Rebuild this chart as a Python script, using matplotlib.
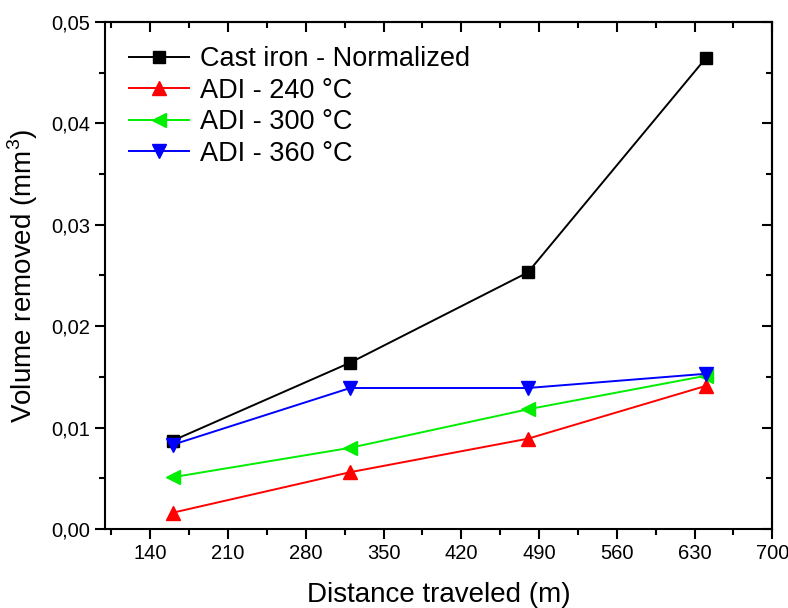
import matplotlib
matplotlib.use("Agg")
import matplotlib.pyplot as plt
from matplotlib.ticker import MultipleLocator, FuncFormatter

plt.rcParams["font.family"] = ["Liberation Sans", "DejaVu Sans"]
plt.rcParams["mathtext.fontset"] = "custom"
plt.rcParams["mathtext.rm"] = "Liberation Sans"

distance = [160, 320, 480, 640]
cast_iron = [0.0087, 0.0164, 0.0253, 0.0464]
adi_240 = [0.0016, 0.0056, 0.0089, 0.0141]
adi_300 = [0.0051, 0.0080, 0.0118, 0.0151]
adi_360 = [0.0083, 0.0139, 0.0139, 0.0153]

fig = plt.figure(figsize=(7.88, 6.08), dpi=100)
ax = fig.add_axes([0.133, 0.13, 0.847, 0.834])

ax.plot(distance, cast_iron, color="black", marker="s", ms=8, lw=1.4,
        label="Cast iron - Normalized")
ax.plot(distance, adi_240, color="#ff0000", marker="^", ms=10, lw=1.4,
        label="ADI - 240 °C")
ax.plot(distance, adi_300, color="#00ee00", marker="<", ms=10, lw=1.4,
        label="ADI - 300 °C")
ax.plot(distance, adi_360, color="#0000ff", marker="v", ms=10, lw=1.4,
        label="ADI - 360 °C")

ax.set_xlim(99, 700)
ax.set_ylim(0, 0.05)
ax.xaxis.set_minor_locator(MultipleLocator(35))
ax.set_xticks(range(140, 701, 70))
ax.yaxis.set_major_locator(MultipleLocator(0.01))
ax.yaxis.set_minor_locator(MultipleLocator(0.005))
ax.yaxis.set_major_formatter(FuncFormatter(lambda v, p: f"{v:.2f}".replace(".", ",")))

for s in ax.spines.values():
    s.set_linewidth(1.5)

ax.tick_params(which="both", labelsize=14.5, width=1.5, direction="out",
               top=False, right=False)
ax.tick_params(which="major", length=7)
ax.tick_params(which="minor", length=4)

# mirrored inward ticks on top and right
top = ax.secondary_xaxis("top")
top.xaxis.set_minor_locator(MultipleLocator(35))
top.set_xticks(range(140, 701, 70))
top.tick_params(which="both", direction="in", labeltop=False, width=1.5)
top.tick_params(which="major", length=7)
top.tick_params(which="minor", length=4)
right = ax.secondary_yaxis("right")
right.yaxis.set_major_locator(MultipleLocator(0.01))
right.yaxis.set_minor_locator(MultipleLocator(0.005))
right.tick_params(which="both", direction="in", labelright=False, width=1.5)
right.tick_params(which="major", length=7)
right.tick_params(which="minor", length=4)
for sa in (top, right):
    for s in sa.spines.values():
        s.set_linewidth(1.5)

ax.set_xlabel("Distance traveled (m)", fontsize=20, labelpad=14)
ax.set_ylabel("Volume removed (mm$^3$)", fontsize=20, labelpad=8)

ax.legend(loc="upper left", frameon=False, fontsize=19.5, handlelength=2.2,
          handletextpad=0.4, labelspacing=0.2, borderaxespad=0.5,
          bbox_to_anchor=(0.0, 1.0))

fig.savefig("out.png", dpi=100)
